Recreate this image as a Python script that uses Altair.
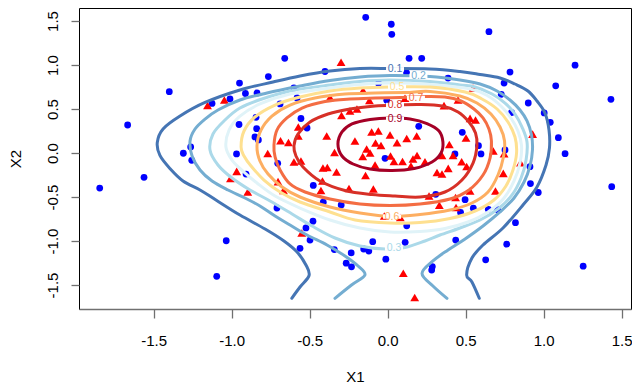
import altair as alt
import pandas as pd

# ---------------- data ----------------
blue_x = [-1.400,-1.667,-1.310,-1.263,-1.256,-1.562,-1.846,-1.126,-1.096,-0.141,
          0.023,0.026,-0.660,0.137,0.218,-0.765,-0.950,-0.402,-0.912,-0.838,
          -1.011,-0.601,-0.581,-0.690,-0.844,-0.556,-0.517,-0.953,-0.840,-0.851,
          -0.829,-0.969,-0.705,-0.006,0.121,0.199,-0.017,-0.477,-0.908,0.649,
          1.201,0.784,0.746,1.077,0.387,1.431,0.728,0.901,0.794,1.003,
          1.042,1.094,0.478,0.582,0.598,0.431,0.752,1.137,0.912,0.915,
          0.965,1.436,0.308,0.496,0.467,0.549,0.645,0.705,0.819,0.436,
          0.763,0.628,0.286,0.282,1.253,-0.413,-0.298,-0.710,-0.479,-0.524,
          -0.498,-0.562,-1.035,-0.342,-0.234,-0.266,-0.232,-0.154,-0.121,-0.096,
          -0.012,0.112,0.122,-0.059]
blue_y = [0.697,0.318,-0.003,0.068,-0.083,-0.276,-0.398,0.563,-1.401,1.542,
          1.463,1.349,1.076,1.076,1.076,0.869,0.795,0.926,0.676,0.682,
          0.614,0.739,0.625,0.557,0.406,0.392,0.284,0.324,0.276,0.182,
          0.148,-0.011,-0.117,0.599,0.909,0.303,-0.060,-0.369,-0.239,1.378,
          0.998,0.920,0.795,0.764,0.852,0.610,0.667,0.568,0.460,0.455,
          0.349,0.174,0.235,0.083,-0.011,-0.011,0.034,-0.008,-0.156,-0.347,
          -0.449,-0.383,-0.469,-0.531,-0.676,-0.628,-0.640,-0.644,-0.792,-0.989,
          -1.036,-1.214,-1.290,-1.330,-1.286,-0.559,-0.591,-0.625,-0.775,-0.852,
          -0.989,-1.083,-0.997,-1.097,-1.136,-1.252,-1.293,-1.091,-1.114,-1.008,
          -1.207,-1.015,-0.827,0.792]

red_x = [-1.155,-1.047,-0.299,-0.370,-0.158,-0.117,0.111,0.361,0.451,0.547,
         -0.242,-0.197,-0.296,-0.573,-0.573,-0.391,-0.687,-0.636,-0.210,-0.103,
         -0.060,0.015,0.060,0.122,0.186,-0.078,-0.043,-0.135,-0.113,-0.160,
         -0.341,-0.769,-0.601,-0.556,-0.415,-0.387,-0.328,-0.142,-0.081,0.018,
         0.040,0.095,0.162,0.188,0.149,0.239,0.316,0.348,0.348,0.419,
         0.395,0.388,0.474,0.506,0.528,0.563,0.502,0.677,0.746,0.929,
         0.851,0.741,-0.418,-0.428,-0.248,-0.092,-0.968,-1.008,-0.703,-0.897,
         -0.668,-0.551,-0.022,0.081,0.100,0.173,0.265,0.331,0.435,0.438,
         0.528,0.691]
red_y = [0.540,0.602,1.031,0.631,0.710,0.597,0.622,0.538,0.602,0.739,
         0.477,0.500,0.426,0.295,0.193,0.193,0.139,0.119,0.136,0.239,
         0.250,0.205,0.117,0.165,0.193,0.114,0.085,0.045,0.000,-0.040,
         0.006,-0.006,-0.102,-0.091,-0.170,-0.165,-0.216,-0.256,-0.136,-0.034,
         -0.097,-0.097,-0.068,-0.028,-0.148,-0.099,-0.222,-0.239,-0.028,-0.028,
         0.097,-0.174,-0.099,-0.153,0.394,0.375,0.170,0.023,-0.008,0.214,
         -0.111,-0.231,-0.318,-0.426,-0.403,-0.409,-0.208,-0.290,-0.326,-0.443,
         -0.426,-0.909,-0.716,-0.733,-1.367,-1.642,-0.489,-0.594,-0.506,-0.619,
         -0.432,-0.432]

# contour levels and colours
levels = ["0.1","0.2","0.3","0.4","0.5","0.6","0.7","0.8","0.9"]
level_colors = ["#4575b4","#74add1","#abd9e9","#e0f3f8","#fee090",
                "#fdae61","#f46d43","#d73027","#a50026"]

# open contours (leave the grid at the bottom)
c01_x = [-0.615,-0.562,-0.504,-0.524,-0.581,-0.665,-0.786,-0.947,-1.101,-1.203,
         -1.312,-1.396,-1.460,-1.477,-1.440,-1.331,-1.171,-0.947,-0.735,-0.562,
         -0.370,-0.178,0.015,0.271,0.463,0.592,0.720,0.816,0.899,0.957,
         1.008,1.034,1.037,1.015,0.957,0.867,0.739,0.611,0.540,0.506,0.540,0.587]
c01_y = [-1.651,-1.523,-1.392,-1.273,-1.125,-1.000,-0.864,-0.705,-0.534,-0.420,
         -0.318,-0.176,-0.028,0.119,0.273,0.420,0.574,0.716,0.807,0.875,
         0.932,0.960,0.960,0.955,0.926,0.892,0.852,0.784,0.705,0.591,
         0.455,0.261,0.057,-0.136,-0.386,-0.591,-0.852,-1.045,-1.193,-1.386,-1.466,-1.651]
c02_x = [-0.338,-0.232,-0.146,-0.190,-0.274,-0.389,-0.517,-0.626,-0.722,-0.819,
         -0.915,-1.024,-1.126,-1.203,-1.254,-1.267,-1.235,-1.171,-1.088,-0.947,
         -0.774,-0.562,-0.370,-0.178,0.015,0.271,0.463,0.592,0.701,0.784,
         0.848,0.893,0.922,0.928,0.912,0.874,0.810,0.720,0.611,0.496,
         0.387,0.290,0.220,0.290,0.380]
c02_y = [-1.651,-1.500,-1.386,-1.284,-1.170,-1.045,-0.932,-0.818,-0.716,-0.602,
         -0.511,-0.420,-0.318,-0.193,-0.034,0.136,0.273,0.386,0.489,0.602,
         0.682,0.761,0.824,0.864,0.881,0.869,0.830,0.784,0.705,0.602,
         0.489,0.364,0.205,0.034,-0.148,-0.330,-0.511,-0.670,-0.830,-0.977,
         -1.102,-1.227,-1.369,-1.511,-1.651]
# closed contours
c03_x = [-1.139,-1.120,-1.043,-0.947,-0.806,-0.626,-0.370,-0.178,0.015,0.271,
         0.463,0.560,0.669,0.752,0.816,0.861,0.893,0.887,0.855,0.797,
         0.707,0.592,0.463,0.335,0.239,0.111,-0.017,-0.178,-0.338,-0.485,
         -0.613,-0.754,-0.883,-0.998,-1.088]
c03_y = [0.034,0.216,0.375,0.511,0.614,0.705,0.773,0.813,0.830,0.813,
         0.773,0.750,0.670,0.568,0.443,0.295,0.125,-0.080,-0.284,-0.477,
         -0.636,-0.761,-0.852,-0.932,-1.000,-1.074,-1.091,-1.057,-0.966,-0.830,
         -0.693,-0.545,-0.420,-0.284,-0.136]
c04_x = [-1.037,-1.017,-0.947,-0.819,-0.626,-0.370,-0.178,0.015,0.271,0.528,
         0.643,0.726,0.790,0.835,0.858,0.848,0.810,0.746,0.643,0.515,
         0.367,0.207,0.015,-0.178,-0.370,-0.562,-0.722,-0.838,-0.928,-0.998]
c04_y = [0.068,0.261,0.420,0.557,0.670,0.739,0.778,0.795,0.778,0.727,
         0.648,0.534,0.398,0.250,0.080,-0.114,-0.318,-0.511,-0.670,-0.784,
         -0.858,-0.892,-0.898,-0.852,-0.761,-0.625,-0.489,-0.341,-0.205,-0.080]
c05_x = [-0.940,-0.921,-0.851,-0.722,-0.562,-0.370,-0.178,0.015,0.271,0.496,
         0.604,0.701,0.771,0.816,0.826,0.803,0.758,0.681,0.560,0.399,
         0.207,0.015,-0.209,-0.370,-0.562,-0.690,-0.793,-0.876,-0.921]
c05_y = [0.068,0.250,0.409,0.545,0.636,0.705,0.739,0.750,0.750,0.693,
         0.614,0.500,0.352,0.182,0.000,-0.193,-0.375,-0.534,-0.659,-0.744,
         -0.790,-0.795,-0.761,-0.670,-0.557,-0.443,-0.307,-0.148,-0.034]
c06_x = [-0.838,-0.812,-0.742,-0.626,-0.466,-0.274,-0.081,0.111,0.271,0.463,
         0.572,0.662,0.720,0.749,0.742,0.707,0.643,0.540,0.399,0.207,
         0.015,-0.178,-0.370,-0.562,-0.677,-0.767,-0.819]
c06_y = [0.080,0.261,0.420,0.545,0.625,0.670,0.682,0.688,0.699,0.648,
         0.568,0.443,0.295,0.136,-0.045,-0.250,-0.443,-0.568,-0.648,-0.699,
         -0.722,-0.682,-0.614,-0.500,-0.386,-0.239,-0.091]
c07_x = [-0.729,-0.710,-0.646,-0.549,-0.402,-0.242,-0.081,0.079,0.239,0.367,
         0.470,0.553,0.611,0.649,0.665,0.656,0.611,0.521,0.399,0.207,
         0.015,-0.178,-0.370,-0.530,-0.626,-0.690,-0.722]
c07_y = [0.091,0.261,0.398,0.511,0.585,0.614,0.625,0.631,0.642,0.636,
         0.591,0.500,0.398,0.273,0.136,-0.057,-0.250,-0.420,-0.523,-0.580,
         -0.597,-0.580,-0.523,-0.443,-0.352,-0.193,-0.045]
c08_x = [-0.601,-0.575,-0.498,-0.383,-0.242,-0.081,0.047,0.207,0.348,0.451,
         0.521,0.563,0.572,0.547,0.476,0.367,0.207,0.047,-0.101,-0.274,
         -0.434,-0.543,-0.588]
c08_y = [0.080,0.216,0.352,0.443,0.500,0.534,0.545,0.551,0.534,0.466,
         0.352,0.227,0.080,-0.114,-0.307,-0.443,-0.500,-0.489,-0.472,-0.426,
         -0.318,-0.159,-0.034]
c09_x = [-0.319,-0.293,-0.229,-0.113,0.015,0.143,0.252,0.329,0.354,0.342,
         0.284,0.169,0.028,-0.113,-0.222,-0.293]
c09_y = [0.102,0.239,0.330,0.381,0.398,0.386,0.335,0.250,0.125,0.000,
         -0.102,-0.176,-0.199,-0.182,-0.125,-0.034]

# contour labels
label_text = ["0.1","0.2","0.5","0.7","0.8","0.9","0.6","0.3"]
label_x = [0.047,0.197,0.060,0.181,0.047,0.047,0.028,0.040]
label_y = [0.951,0.877,0.750,0.625,0.545,0.386,-0.722,-1.085]

x_ticks = [-1.5,-1.0,-0.5,0.0,0.5,1.0,1.5]
y_ticks = [-1.5,-1.0,-0.5,0.0,0.5,1.0,1.5]

# ---------------- tables ----------------
blue_df = pd.DataFrame({"x": blue_x, "y": blue_y})
red_df = pd.DataFrame({"x": red_x, "y": red_y})

def build(sets):
    rows = []
    for lev, xs, ys in sets:
        for i, (a, b) in enumerate(zip(xs, ys)):
            rows.append({"level": lev, "i": i, "x": a, "y": b})
    return pd.DataFrame(rows)

open_df = build([("0.1", c01_x, c01_y), ("0.2", c02_x, c02_y)])
closed_df = build([("0.3", c03_x, c03_y), ("0.4", c04_x, c04_y), ("0.5", c05_x, c05_y),
                   ("0.6", c06_x, c06_y), ("0.7", c07_x, c07_y), ("0.8", c08_x, c08_y),
                   ("0.9", c09_x, c09_y)])
lab_df = pd.DataFrame({"level": label_text, "x": label_x, "y": label_y})

# ---------------- encodings ----------------
FONT = "Liberation Sans"
xscale = alt.Scale(domain=[-1.9788, 1.5596], nice=False, zero=False)
yscale = alt.Scale(domain=[-1.7727, 1.6477], nice=False, zero=False)
minus_expr = "(datum.value < 0 ? '-' : '') + format(abs(datum.value), '.1f')"

xaxis = alt.Axis(values=x_ticks, labelExpr=minus_expr, title="X1", grid=False,
                 domain=True, domainColor="#707070", domainWidth=1.3,
                 tickColor="#707070", tickWidth=1.3, tickSize=9,
                 labelFont=FONT, labelFontSize=15, labelColor="black",
                 labelPadding=15, labelFlush=False, labelOverlap=False,
                 titleFont=FONT, titleFontSize=15, titleFontWeight="normal",
                 titleColor="black", titleY=72.5, titleBaseline="alphabetic")
yaxis = alt.Axis(values=y_ticks, labelExpr=minus_expr, title="X2", grid=False,
                 domain=False, tickColor="#707070", tickWidth=1.3, tickSize=8,
                 labelFont=FONT, labelFontSize=15, labelColor="black",
                 labelAngle=270, labelAlign="center", labelBaseline="alphabetic",
                 labelPadding=14, labelFlush=False, labelOverlap=False,
                 titleFont=FONT, titleFontSize=15, titleFontWeight="normal",
                 titleColor="black", titleAngle=270, titleAlign="center",
                 titleBaseline="alphabetic", titleX=-59, titleY=150.5)

X = alt.X("x:Q", scale=xscale, axis=xaxis)
Y = alt.Y("y:Q", scale=yscale, axis=yaxis)
C = alt.Color("level:N", scale=alt.Scale(domain=levels, range=level_colors), legend=None)

blue = alt.Chart(blue_df).mark_point(shape="circle", filled=True, color="#0000ff",
                                     size=46, opacity=1).encode(x=X, y=Y)
red = alt.Chart(red_df).mark_point(shape="triangle-up", filled=True, color="#ff0000",
                                   size=78, opacity=1).encode(x=X, y=Y)
open_lines = alt.Chart(open_df).mark_line(interpolate="cardinal", strokeWidth=3,
                                          strokeCap="round", clip=True).encode(
    x=X, y=Y, color=C, detail="level:N", order="i:Q")
closed_lines = alt.Chart(closed_df).mark_line(interpolate="cardinal-closed", strokeWidth=3,
                                              strokeCap="round", clip=True).encode(
    x=X, y=Y, color=C, detail="level:N", order="i:Q")
label_bg = alt.Chart(lab_df).mark_point(shape="M-1,-0.25L1,-0.25L1,0.25L-1,0.25Z",
                                        filled=True, color="white", size=324,
                                        opacity=1).encode(x=X, y=Y)
labels = alt.Chart(lab_df).mark_text(font=FONT, fontSize=10.5, align="center",
                                     baseline="middle").encode(
    x=X, y=Y, text="level:N", color=C)

chart = alt.layer(blue, red, open_lines, closed_lines, label_bg, labels).properties(
    width=552, height=301,
    autosize=alt.AutoSizeParams(type="none"),
    padding={"left": 71, "top": 0, "right": 1, "bottom": 75},
    background="white",
).configure_view(stroke="black", strokeWidth=1)

chart.save("out.html", embed_options={"renderer": "svg", "actions": False})
